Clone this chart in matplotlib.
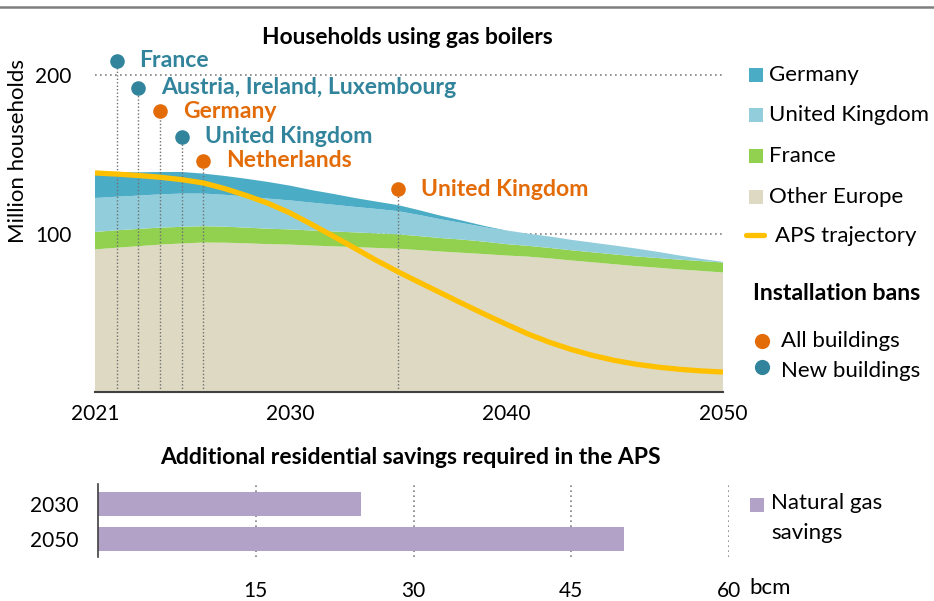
import matplotlib
matplotlib.use("Agg")
import matplotlib.pyplot as plt
from matplotlib.patches import Rectangle
from matplotlib.lines import Line2D

# ---------------- data ----------------
years = list(range(2021, 2051))
other_europe = [90.0, 91.0, 92.0, 93.0, 93.7, 94.3, 94.2, 93.8, 93.3, 93.0,
                92.4, 91.9, 91.4, 90.9, 90.4, 89.5, 88.6, 87.8, 87.0, 86.1,
                85.4, 84.3, 83.0, 81.8, 80.6, 79.4, 78.4, 77.3, 76.4, 75.4]
france = [11.0, 11.0, 10.9, 10.7, 10.5, 10.3, 10.1, 9.9, 9.7, 9.6,
          9.5, 9.4, 9.3, 9.2, 9.1, 8.8, 8.5, 8.3, 7.8, 7.2,
          6.8, 6.6, 6.4, 6.3, 6.2, 6.1, 6.1, 6.2, 6.2, 6.3]
united_kingdom = [21.4, 21.2, 21.0, 21.0, 21.0, 20.6, 20.1, 19.6, 19.0, 18.3,
                  17.6, 16.9, 16.1, 15.4, 14.6, 13.3, 11.8, 10.4, 9.2, 8.4,
                  7.7, 7.2, 6.6, 6.1, 5.6, 5.0, 3.9, 2.6, 1.4, 0.4]
germany = [16.4, 15.5, 14.7, 14.1, 13.6, 12.6, 11.9, 11.2, 10.5, 9.3,
           7.9, 6.8, 5.6, 4.6, 3.8, 3.0, 2.2, 1.5, 0.7, 0.2,
           0.0, 0.0, 0.0, 0.0, 0.0, 0.0, 0.0, 0.0, 0.0, 0.0]
aps_trajectory = [138.2, 137.5, 136.6, 135.5, 134.0, 131.9, 128.3, 123.9, 119.0, 113.0,
                  105.8, 98.3, 90.7, 83.0, 75.8, 69.0, 62.3, 55.6, 49.0, 42.7,
                  36.6, 31.3, 26.8, 23.0, 19.9, 17.5, 15.7, 14.3, 13.3, 12.6]

ban_years = [2022, 2023, 2024, 2025, 2026, 2035]
ban_labels = ["France", "Austria, Ireland, Luxembourg", "Germany",
              "United Kingdom", "Netherlands", "United Kingdom"]
ban_types = ["new", "new", "all", "new", "all", "all"]

x_ticks = [2021, 2030, 2040, 2050]
y_ticks = [100, 200]

savings_years = ["2030", "2050"]
savings_bcm = [25, 50]
savings_ticks = [15, 30, 45, 60]

# ---------------- style ----------------
C_GER = "#4BACC6"
C_UK = "#92CDDC"
C_FRA = "#92D050"
C_OTH = "#DDD9C3"
C_APS = "#FFC000"
C_ALL = "#E36C09"
C_NEW = "#31849B"
C_BAR = "#B3A2C7"
GRID = "#808080"

plt.rcParams["font.family"] = ["Lato", "DejaVu Sans"]

W, H = 934, 601
fig = plt.figure(figsize=(W / 100, H / 100), dpi=100)


def frect(x0, y0, x1, y1):
    return [x0 / W, 1 - y1 / H, (x1 - x0) / W, (y1 - y0) / H]


# label display heights for the ban markers (layout only)
ban_label_y = [209, 192, 177, 161, 146, 128]

# ---------------- top chart ----------------
ax = fig.add_axes(frect(95, 43.3, 723, 392))
ax.set_xlim(2021, 2050)
ax.set_ylim(0, 220)
for yv in y_ticks:
    ax.axhline(yv, color=GRID, lw=1.2, ls=(0, (1, 2)), zorder=0)
ax.stackplot(years, other_europe, france, united_kingdom, germany,
             colors=[C_OTH, C_FRA, C_UK, C_GER], zorder=1, lw=0)
for yr, lab, typ, ly in zip(ban_years, ban_labels, ban_types, ban_label_y):
    col = C_ALL if typ == "all" else C_NEW
    ax.plot([yr, yr], [0, ly], color="#707070", lw=1.0, ls=(0, (1, 1.5)), zorder=2)
    ax.scatter([yr], [ly], s=110, color=col, zorder=5, clip_on=False, lw=0)
    ax.annotate(lab, (yr, ly), xytext=(16.5, 0), textcoords="offset points",
                va="center", ha="left", color=col, fontsize=16.6,
                fontweight="bold", annotation_clip=False)
ax.plot(years, aps_trajectory, color=C_APS, lw=3.8, zorder=4,
        solid_capstyle="butt", clip_on=False)

for s in ["top", "right", "left"]:
    ax.spines[s].set_visible(False)
ax.spines["bottom"].set_color("#404040")
ax.spines["bottom"].set_linewidth(1.5)
ax.spines["bottom"].set_zorder(6)
ax.set_xticks(x_ticks)
ax.set_yticks(y_ticks)
ax.tick_params(axis="x", length=0, pad=9, labelsize=15)
ax.tick_params(axis="y", length=0, pad=17, labelsize=15)
ax.set_ylabel("Million households", fontsize=16, labelpad=2)
ax.yaxis.set_label_coords(-0.106, 0.69)

# ---------------- bottom chart ----------------
bx = fig.add_axes(frect(98, 484, 729, 557))
ypos = list(range(len(savings_years)))
bx.barh(ypos, savings_bcm, height=0.71, color=C_BAR, zorder=2)
bx.set_xlim(0, 60)
bx.set_ylim(1.514, -0.571)
for xv in savings_ticks:
    bx.axvline(xv, color=GRID, lw=1.2, ls=(0, (1, 2)), zorder=1)
for s in ["top", "right", "bottom"]:
    bx.spines[s].set_visible(False)
bx.spines["left"].set_color("#404040")
bx.spines["left"].set_linewidth(1.2)
bx.set_yticks(ypos)
bx.set_yticklabels(savings_years)
bx.set_xticks(savings_ticks)
bx.tick_params(axis="y", length=0, pad=14, labelsize=15)
bx.tick_params(axis="x", length=0, pad=17, labelsize=15)

# ---------------- overlay: titles, legends ----------------
ov = fig.add_axes([0, 0, 1, 1], zorder=10)
ov.set_xlim(0, W)
ov.set_ylim(H, 0)
ov.axis("off")
ov.plot([0, W], [7, 7], color="#7F7F7F", lw=1.8)

ov.text(407, 38, "Households using gas boilers", ha="center", va="center",
        fontsize=16.4, fontweight="bold")
ov.text(410, 458, "Additional residential savings required in the APS",
        ha="center", va="center", fontsize=16.5, fontweight="bold")

leg_items = [("Germany", C_GER, 75), ("United Kingdom", C_UK, 115),
             ("France", C_FRA, 156), ("Other Europe", C_OTH, 197)]
for lab, col, yc in leg_items:
    ov.add_patch(Rectangle((749, yc - 7), 14, 14, color=col, lw=0))
    ov.text(769, yc, lab, ha="left", va="center", fontsize=16)
ov.add_line(Line2D([746, 764], [235, 235], color=C_APS, lw=3.8,
                   solid_capstyle="round"))
ov.text(775, 236, "APS trajectory", ha="left", va="center", fontsize=16)

ov.text(753, 293, "Installation bans", ha="left", va="center", fontsize=16.6,
        fontweight="bold")
ov.scatter([762], [341], s=120, color=C_ALL, lw=0)
ov.text(781, 341, "All buildings", ha="left", va="center", fontsize=16)
ov.scatter([762], [367], s=120, color=C_NEW, lw=0)
ov.text(781, 371, "New buildings", ha="left", va="center", fontsize=16)

ov.add_patch(Rectangle((750, 497.5), 14, 14, color=C_BAR, lw=0))
ov.text(771, 503, "Natural gas", ha="left", va="center", fontsize=16)
ov.text(771, 533, "savings", ha="left", va="center", fontsize=16)
ov.text(749, 588, "bcm", ha="left", va="center", fontsize=16)

fig.savefig("out.png", dpi=100)
